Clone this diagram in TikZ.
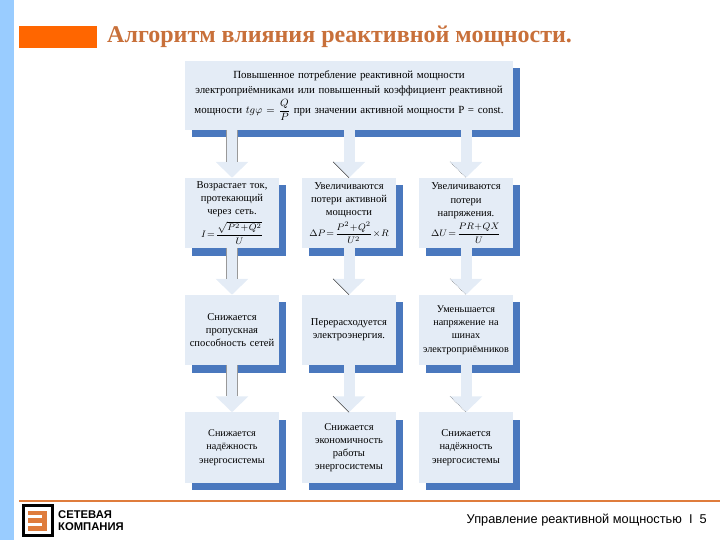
\documentclass[tikz,border=0pt]{standalone}
\usepackage{fontspec}
\setmainfont{Liberation Serif}
\newfontfamily\labelfont{Liberation Sans}
\usepackage{amsmath}
\usetikzlibrary{arrows.meta, calc, shadows}
\definecolor{stripblue}{HTML}{99CCFF}
\definecolor{barorange}{HTML}{FF6600}
\definecolor{titlebrown}{HTML}{C8703A}
\definecolor{ruleorange}{HTML}{DF7C3C}
\definecolor{boxfill}{HTML}{E4ECF6}
\definecolor{boxshadow}{HTML}{4A78BE}
\newcommand{\formulasize}{\fontsize{8}{9}\selectfont\thickmuskip=2mu\medmuskip=1mu}

\begin{document}
\begin{tikzpicture}[x=0.03cm, y=-0.03cm,
    infobox/.style={fill=boxfill, align=center, inner sep=0pt, text width=2.76cm,
        minimum width=2.82cm, minimum height=2.1cm,
        font=\fontsize{9}{11.3}\selectfont,
        drop shadow={shadow xshift=0.21cm, shadow yshift=-0.225cm, fill=boxshadow, opacity=1}},
    flow/.style={line width=0.33cm, draw=boxfill,
        -{Triangle[length=0.48cm, width=0.96cm, fill=boxfill]}},
    flawline/.style={line width=0.4pt, black!75},
    flawdots/.style={line width=0.4pt, black!60, densely dotted},
    flawside/.style={line width=0.5pt, black!40}]
    \useasboundingbox (0,0) rectangle (720,540);
    % page furniture
    \fill[stripblue] (0,0) rectangle (14,540);
    \fill[barorange] (19,26) rectangle (97,48);
    \node[anchor=base west, inner sep=0pt, text=titlebrown, font=\fontsize{20.5}{24}\selectfont\bfseries] (title) at (107,43) {Алгоритм влияния реактивной мощности.};
    \coordinate (ruleL) at (19,501);
    \coordinate (ruleR) at (720,501);
    \draw[ruleorange, line width=0.06cm] (ruleL) -- (ruleR);
    \node[anchor=base east, inner sep=0pt, font=\labelfont\fontsize{10.9}{12}\selectfont] (footer) at (707,523) {Управление реактивной мощностью\ \ I\ \ 5};
    % logo
    \draw[black, line width=0.09cm] (23.5,505.5) rectangle (52.5,535.5);
    \fill[ruleorange] (28,511) rectangle (47,531);
    \fill[white] (28,515) rectangle (42,518);
    \fill[white] (28,523) rectangle (42,526);
    \node[anchor=base west, inner sep=0pt, font=\labelfont\bfseries\fontsize{9.6}{10}\selectfont] (logoA) at (58,518) {СЕТЕВАЯ};
    \node[anchor=base west, inner sep=0pt, font=\labelfont\bfseries\fontsize{9.6}{10}\selectfont] (logoB) at (58,530) {КОМПАНИЯ};
    % boxes
    \node[infobox, text width=9.7cm, minimum width=9.84cm, minimum height=2.07cm, font=\fontsize{9.3}{11.3}\selectfont] (top) at (349,95.5)
        {Повышенное потребление реактивной мощности\\[2pt]
         электроприёмниками или повышенный коэффициент реактивной\\[2pt]
         мощности $tg\varphi=\dfrac{Q}{P}$ при значении активной мощности P = const.};
    \node[infobox] (currentB) at (232,213) {Возрастает ток,\\ протекающий\\ через сеть.\\[3pt]
        \formulasize $I=\dfrac{\sqrt{P^2+Q^2}}{U}$};
    \node[infobox] (lossP) at (349,213) {Увеличиваются\\ потери активной\\ мощности\\[3pt]
        \formulasize $\Delta P=\dfrac{P^2+Q^2}{U^2}\times R$};
    \node[infobox] (lossU) at (466,213) {Увеличиваются\\ потери\\ напряжения.\\[3pt]
        \formulasize $\Delta U=\dfrac{PR+QX}{U}$};
    \node[infobox] (capacity) at (232,330) {Снижается\\ пропускная\\ способность сетей};
    \node[infobox] (overuse) at (349,330) {Перерасходуется\\ электроэнергия.};
    \node[infobox, font=\fontsize{8.7}{11.3}\selectfont] (voltage) at (466,330) {Уменьшается\\ напряжение на\\ шинах\\ электроприёмников};
    \node[infobox, font=\fontsize{8.7}{11.3}\selectfont] (reliab) at (232,447.5) {Снижается\\ надёжность\\ энергосистемы};
    \node[infobox] (econ) at (349,447.5) {Снижается\\ экономичность\\ работы\\ энергосистемы};
    \node[infobox] (relib) at (466,447.5) {Снижается\\ надёжность\\ энергосистемы};
    % arrows
    \draw[flow] (top.south -| currentB) -- (currentB);
    \draw[flow] (top.south -| lossP) -- (lossP);
    \draw[flow] (top.south -| lossU) -- (lossU);
    \draw[flow] (currentB) -- (capacity);
    \draw[flow] (lossP) -- (overuse);
    \draw[flow] (lossU) -- (voltage);
    \draw[flow] (capacity) -- (reliab);
    \draw[flow] (overuse) -- (econ);
    \draw[flow] (voltage) -- (relib);
    % dark edges left on the arrows
    \foreach \boxname in {lossP, overuse, econ}
        \draw[flawline] ($(\boxname.north)+(-16,-16)$) -- (\boxname.north);
    \foreach \boxname in {lossU, voltage, relib}
        \draw[flawdots] ($(\boxname.north)+(-16,-16)$) -- (\boxname.north);
    \foreach \boxname/\fromname in {currentB/top, capacity/currentB, reliab/capacity} {
        \draw[flawside] ($(\fromname.south -| \boxname)+(-5.5,0)$) -- ($(\boxname.north)+(-5.5,-16)$);
        \draw[flawside] ($(\fromname.south -| \boxname)+(5.5,0)$) -- ($(\boxname.north)+(5.5,-16)$);
    }
\end{tikzpicture}
\end{document}
